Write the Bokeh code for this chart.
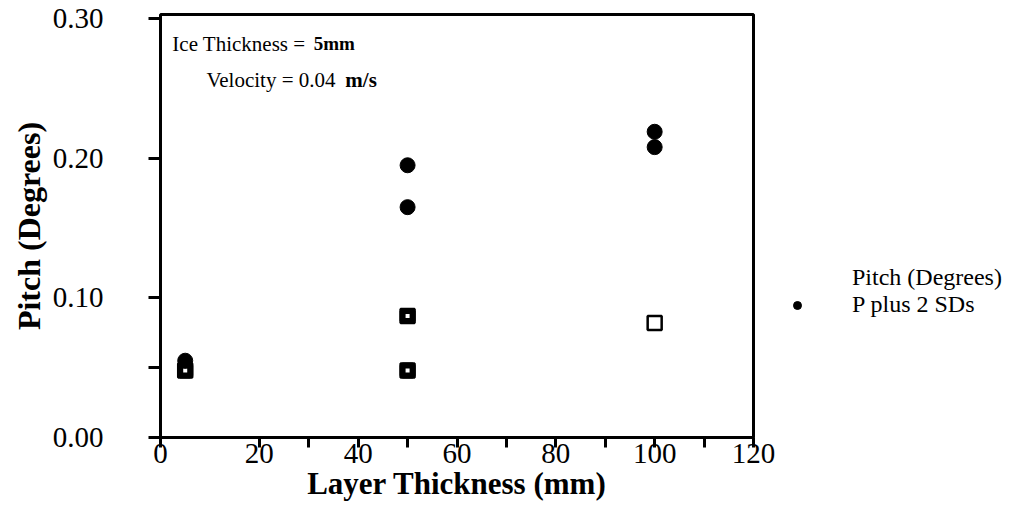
from bokeh.plotting import figure
from bokeh.layouts import row
from bokeh.models import (Range1d, FixedTicker, Label, NumeralTickFormatter,
                          Legend, LegendItem)
from bokeh.embed import file_html
from bokeh.resources import INLINE

# Data
layer_thickness = [5, 50, 50, 100]
pitch_deg = [0.048, 0.087, 0.048, 0.082]
layer_thickness_sd = [5, 50, 50, 100, 100]
pitch_plus_2sd = [0.055, 0.195, 0.165, 0.219, 0.208]

x_ticks = [0, 20, 30, 40, 50, 60, 70, 80, 90, 100, 110, 120]
x_tick_labels = {0: "0", 20: "20", 30: "", 40: "40", 50: "", 60: "60", 70: "",
                 80: "80", 90: "", 100: "100", 110: "", 120: "120"}
y_ticks = [0.0, 0.05, 0.10, 0.20, 0.30]
series_names = ["Pitch (Degrees)", "P plus 2 SDs"]

FONT = "Liberation Serif"

p = figure(width=785, height=519, output_backend="svg", toolbar_location=None,
           x_range=Range1d(0, 120), y_range=Range1d(0, 0.303),
           min_border_left=160, min_border_right=32, min_border_top=14,
           min_border_bottom=82)
p.grid.visible = False
p.background_fill_color = "white"
p.border_fill_color = "white"
p.outline_line_color = "black"
p.outline_line_width = 3

# x axis
xa = p.xaxis[0]
xa.ticker = FixedTicker(ticks=x_ticks)
xa.major_label_overrides = dict(x_tick_labels)
xa.axis_line_color = None
xa.major_tick_out = 10
xa.major_tick_in = 0
xa.major_tick_line_width = 3
xa.minor_tick_line_color = None
xa.major_label_text_font = FONT
xa.major_label_text_font_size = "29px"
xa.major_label_text_color = "black"
xa.major_label_standoff = -4
xa.axis_label = "Layer Thickness (mm)"
xa.axis_label_text_font = FONT
xa.axis_label_text_font_style = "bold"
xa.axis_label_text_font_size = "31px"
xa.axis_label_text_color = "black"
xa.axis_label_standoff = 0

# y axis
ya = p.yaxis[0]
ya.ticker = FixedTicker(ticks=y_ticks)
ya.major_label_overrides = {0.05: ""}
ya.formatter = NumeralTickFormatter(format="0.00")
ya.axis_line_color = None
ya.major_tick_out = 12
ya.major_tick_in = 0
ya.major_tick_line_width = 3
ya.minor_tick_line_color = None
ya.major_label_text_font = FONT
ya.major_label_text_font_size = "29px"
ya.major_label_text_color = "black"
ya.major_label_standoff = 45
ya.axis_label = "Pitch (Degrees)"
ya.axis_label_text_font = FONT
ya.axis_label_text_font_style = "bold"
ya.axis_label_text_font_size = "32px"
ya.axis_label_text_color = "black"
ya.axis_label_standoff = 3

# data
p.scatter(layer_thickness, pitch_deg, marker="square", size=14,
          fill_color="white", line_color="black", line_width=2.5)
p.scatter(layer_thickness[:3], pitch_deg[:3], marker="square", size=10,
          fill_color="white", line_color="black", line_width=6)
p.scatter(layer_thickness_sd, pitch_plus_2sd, marker="circle", size=15,
          fill_color="black", line_color="black")

def lab(x, y, t, size="21px", style="normal", align="left"):
    p.add_layout(Label(x=x, y=y, text=t, text_font=FONT, text_font_size=size,
                       text_font_style=style, text_align=align,
                       text_baseline="middle", text_color="black"))

# annotations inside box
lab(2.4, 0.282, "Ice Thickness =")
lab(31.0, 0.282, "5mm", size="19px", style="bold")
lab(9.3, 0.256, "Velocity = 0.04")
lab(37.4, 0.256, "m/s", size="21px", style="bold")

# legend panel (separate figure to the right)
lf = figure(width=243, height=519, output_backend="svg", toolbar_location=None,
            x_range=Range1d(1000, 1001), y_range=Range1d(0, 1),
            x_axis_location=None, y_axis_location=None, min_border=0)
lf.grid.visible = False
lf.outline_line_color = None
lf.background_fill_color = "white"
lf.border_fill_color = "white"
dummy = lf.scatter(layer_thickness, pitch_deg, marker="square", size=1,
                   fill_alpha=0, line_alpha=0)
circ = lf.scatter(layer_thickness_sd, pitch_plus_2sd, marker="circle", size=13,
                  fill_color="black", line_color="black")
legend = Legend(items=[LegendItem(label=series_names[0], renderers=[dummy]),
                       LegendItem(label=series_names[1], renderers=[circ])],
                location=(2, 119), label_text_font=FONT,
                label_text_font_size="24px", label_text_color="black",
                glyph_width=20, glyph_height=24, label_height=24,
                label_standoff=45, spacing=0, padding=0, margin=0,
                border_line_color=None, background_fill_alpha=0)
lf.add_layout(legend)

layout = row(p, lf)
open("out.html", "w").write(file_html(layout, INLINE))
